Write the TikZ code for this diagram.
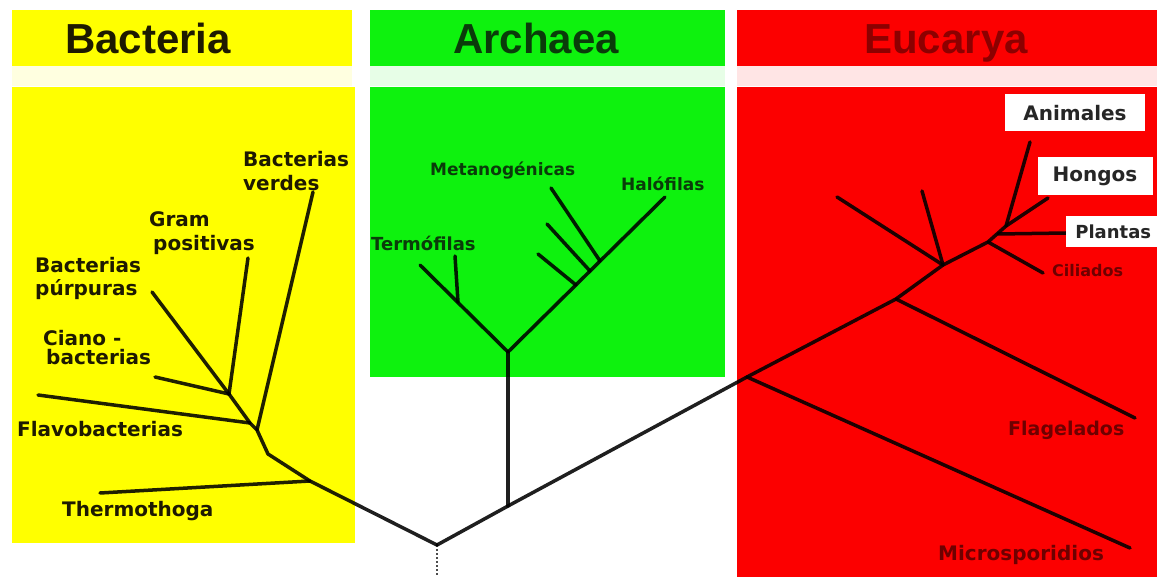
\documentclass[tikz,border=0pt]{standalone}
\usepackage{fontspec}
\setmainfont{DejaVu Sans}
\newfontfamily\hdrfont{Liberation Sans}
\definecolor{bacY}{RGB}{255,255,0}
\definecolor{arcG}{RGB}{14,242,14}
\definecolor{eucR}{RGB}{252,0,0}
\definecolor{bacTxt}{RGB}{30,26,0}
\definecolor{arcTxt}{RGB}{10,60,10}
\definecolor{eucTxt}{RGB}{110,0,0}
\definecolor{eucHdr}{RGB}{140,0,0}
\tikzset{
  branch/.style={line width=3.5pt, draw=black, draw opacity=0.88, line cap=round, line join=round},
  hdr/.style={font=\hdrfont\fontsize{42}{42}\selectfont\bfseries, inner sep=0pt, anchor=base},
  lbl/.style={font=\fontsize{#1}{#1}\selectfont\bfseries, inner sep=0pt},
  lbl/.default=20,
  tagbox/.style={fill=white, inner sep=0pt, font=\fontsize{20}{20}\selectfont\bfseries, text=black!85}
}
\begin{document}
\begin{tikzpicture}[x=1pt,y=-1pt]
\useasboundingbox (0,0) rectangle (1157,577);
\fill[white] (0,0) rectangle (1157,577);

% domain headers
\fill[bacY] (12,10) rectangle (352,66);
\fill[arcG] (370,10) rectangle (725,66);
\fill[eucR] (737,10) rectangle (1157,66);
% pale bands under the headers
\fill[bacY!12] (12,66) rectangle (352,86);
\fill[arcG!10] (370,66) rectangle (725,86);
\fill[eucR!10] (737,66) rectangle (1157,86);
% domain panels
\fill[bacY] (12,87) rectangle (355,543);
\fill[arcG] (370,87) rectangle (725,377);
\fill[eucR] (737,87) rectangle (1160,580);

\node[hdr, text=bacTxt] (hBac) at (148,54) {Bacteria};
\node[hdr, text=arcTxt] (hArc) at (536,54) {Archaea};
\node[hdr, text=eucHdr] (hEuc) at (946,54) {Eucarya};

% ---- tree coordinates ----
\coordinate (root) at (437,545);
\coordinate (rootEnd) at (437,577);
% bacteria
\coordinate (b1) at (310,481);
\coordinate (b2) at (268,454);
\coordinate (b3) at (257,430);
\coordinate (b4) at (250,423);
\coordinate (b5) at (229,394);
\coordinate (tVerdes) at (313,192);
\coordinate (tGram) at (248,258);
\coordinate (tPurp) at (152,292);
\coordinate (tCiano) at (155,377);
\coordinate (tFlavo) at (38,395);
\coordinate (tThermo) at (100,493);
% archaea
\coordinate (a0) at (508,506);
\coordinate (a1) at (508,352);
\coordinate (aL) at (420,265);
\coordinate (aT) at (458,302);
\coordinate (tTerm) at (455,256);
\coordinate (tHalo) at (665,197);
\coordinate (m1) at (576,285);
\coordinate (m2) at (590,271);
\coordinate (m3) at (600,261);
\coordinate (tM1) at (538,254);
\coordinate (tM2) at (547,224);
\coordinate (tM3) at (551,188);
% eucarya
\coordinate (e0) at (747,377);
\coordinate (e1) at (896,299);
\coordinate (e2) at (943,265);
\coordinate (e3) at (988,242);
\coordinate (e4) at (1006,226);
\coordinate (ePl) at (998,234);
\coordinate (tAnim) at (1030,142);
\coordinate (tHong) at (1048,198);
\coordinate (tPlan) at (1066,233);
\coordinate (tCil) at (1043,273);
\coordinate (tFlag) at (1135,418);
\coordinate (tMicro) at (1130,548);
\coordinate (tE1) at (837,197);
\coordinate (tE2) at (922,191);

% ---- branches ----
\draw[line width=2pt, dash pattern=on 2pt off 2pt, draw=black!70] (root) -- (rootEnd);
\draw[branch] (root) -- (a0) -- (e0);
\draw[branch] (root) -- (b1) -- (b2) -- (b3) -- (b4) -- (b5);
\draw[branch] (b3) -- (tVerdes);
\draw[branch] (b5) -- (tGram);
\draw[branch] (b5) -- (tPurp);
\draw[branch] (b5) -- (tCiano);
\draw[branch] (b4) -- (tFlavo);
\draw[branch] (b1) -- (tThermo);

\draw[branch] (a0) -- (a1);
\draw[branch] (a1) -- (aL);
\draw[branch] (aT) -- (tTerm);
\draw[branch] (a1) -- (tHalo);
\draw[branch] (m1) -- (tM1);
\draw[branch] (m2) -- (tM2);
\draw[branch] (m3) -- (tM3);

\draw[branch] (e0) -- (e1) -- (e2) -- (e3) -- (e4) -- (tAnim);
\draw[branch] (e0) -- (tMicro);
\draw[branch] (e1) -- (tFlag);
\draw[branch] (e2) -- (tE1);
\draw[branch] (e2) -- (tE2);
\draw[branch] (e3) -- (tCil);
\draw[branch] (ePl) -- (tPlan);
\draw[branch] (e4) -- (tHong);

% ---- labels ----
\node[lbl, text=bacTxt, align=left, anchor=north west] (lVerdes) at (243,151) {Bacterias\\[4pt]verdes};
\node[lbl, text=bacTxt, align=left, anchor=north west] (lGram) at (147,211) {\hspace*{2pt}Gram\\[4pt]\hspace*{6pt}positivas};
\node[lbl, text=bacTxt, align=left, anchor=north west] (lPurp) at (35,257) {Bacterias\\[3pt]púrpuras};
\node[lbl, text=bacTxt, align=left, anchor=north west] (lCiano) at (43,330) {Ciano -\\[-1pt]\hspace*{3pt}bacterias};
\node[lbl, text=bacTxt, anchor=west] (lFlavo) at (17,429) {Flavobacterias};
\node[lbl, text=bacTxt, anchor=west] (lThermo) at (62,511) {Thermothoga};

\node[lbl=17, text=arcTxt, anchor=west] (lMet) at (430,171) {Metanogénicas};
\node[lbl=17, text=arcTxt, anchor=west] (lHalo) at (621,184) {Halófilas};
\node[lbl=18, text=arcTxt, anchor=west] (lTerm) at (371,243) {Termófilas};

\node[tagbox, minimum width=140pt, minimum height=37pt] (lAnim) at (1075,113) {Animales};
\node[tagbox, minimum width=115pt, minimum height=38pt] (lHong) at (1095,176) {Hongos};
\node[tagbox, font=\fontsize{18}{18}\selectfont\bfseries, minimum width=95pt, minimum height=31pt, anchor=west] (lPlan) at (1066,232) {\hspace*{3pt}Plantas\hspace*{4pt}};
\node[lbl=16, text=eucTxt, anchor=west] (lCil) at (1052,271) {Ciliados};
\node[lbl=19, text=eucTxt, anchor=west] (lFlag) at (1008,430) {Flagelados};
\node[lbl=20, text=eucTxt, anchor=west] (lMicro) at (938,555) {Microsporidios};
\end{tikzpicture}
\end{document}
